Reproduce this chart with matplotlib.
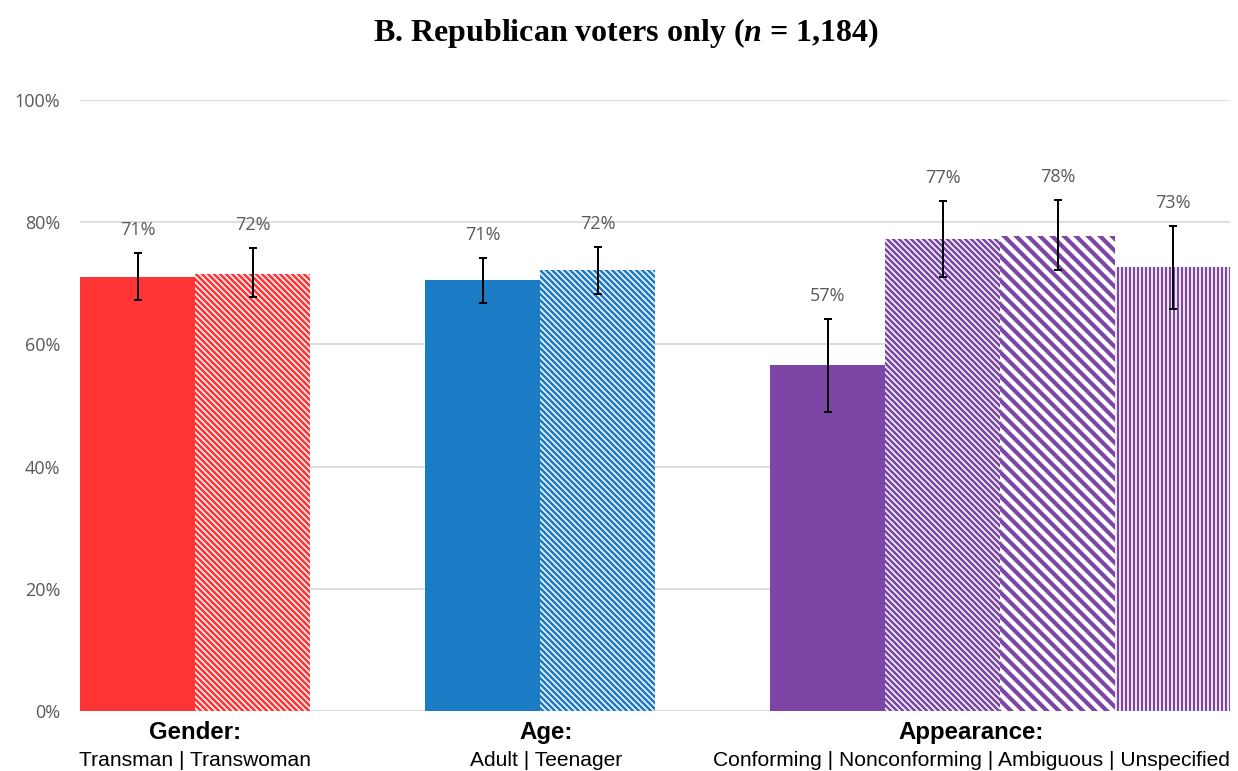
import matplotlib.pyplot as plt
import numpy as np

plt.rcParams['mathtext.fontset'] = 'custom'
plt.rcParams['mathtext.bfit'] = 'Liberation Serif:italic:bold'

# share of respondents (%) per vignette condition, with 95% CI bounds
conditions = ['Transman', 'Transwoman', 'Adult', 'Teenager',
              'Conforming', 'Nonconforming', 'Ambiguous', 'Unspecified']
support = [71.0, 71.6, 70.6, 72.2, 56.6, 77.3, 77.8, 72.6]
ci_low = [67.2, 67.7, 66.7, 68.3, 48.9, 71.1, 72.1, 65.8]
ci_high = [74.9, 75.7, 74.2, 76.0, 64.2, 83.4, 83.7, 79.3]

group_titles = ['Gender:', 'Age:', 'Appearance:']
group_subtitles = ['Transman | Transwoman', 'Adult | Teenager',
                   'Conforming | Nonconforming | Ambiguous | Unspecified']
group_sizes = [2, 2, 4]

red = '#ff3434'
blue = '#1c7bc5'
purple = '#7c45a6'
colors = [red, red, blue, blue, purple, purple, purple, purple]
hatches = [None, '\\' * 4, None, '\\' * 4, None, '\\' * 4, '\\' * 2, '|||']
hatch_lw = [1, 2.6, 1, 2.6, 1, 2.6, 4.2, 2.3]

# bar slots: one empty slot between groups
xs = []
pos = 0
for n in group_sizes:
    xs.extend(np.arange(pos, pos + n) + 0.5)
    pos += n + 1
xs = np.array(xs)
label_x = [1.0, 4.05, 7.75]

fig = plt.figure(figsize=(1238 / 72, 771 / 72), dpi=72)
ax = fig.add_axes([80 / 1238, 60 / 771, 1150 / 1238, 611 / 771])

for x, v, c, h, lw in zip(xs, support, colors, hatches, hatch_lw):
    plt.rcParams['hatch.linewidth'] = lw
    if h is None:
        ax.bar(x, v, width=1.0, color=c, linewidth=0, zorder=2)
    else:
        bars = ax.bar(x, v, width=1.0, facecolor='white', edgecolor=c,
                      hatch=h, linewidth=0, zorder=2)
        for b in bars:
            if hasattr(b, 'set_hatch_linewidth'):
                b.set_hatch_linewidth(lw)

support = np.array(support)
yerr = [support - np.array(ci_low), np.array(ci_high) - support]
ax.errorbar(xs, support, yerr=yerr, fmt='none', ecolor='black',
            elinewidth=2, capsize=4, capthick=2, zorder=3)

for x, v, hi in zip(xs, support, ci_high):
    ax.annotate(f'{v:.0f}%', (x, hi), xytext=(0, 14), textcoords='offset pixels',
                ha='center', va='bottom', fontsize=18, color='#595959',
                family='Open Sans')

ax.set_xlim(0, 10)
ax.set_ylim(0, 100)
ax.set_yticks(range(0, 101, 20))
ax.set_yticklabels([f'{t}%' for t in range(0, 101, 20)], family='Open Sans',
                   fontsize=18, color='#595959')
ax.set_xticks([])
ax.tick_params(axis='y', length=0, pad=20)
ax.grid(axis='y', color='#d4d4d4', linewidth=1.5, zorder=0)
ax.set_axisbelow(True)
for s in ax.spines.values():
    s.set_visible(False)

for x, t, st in zip(label_x, group_titles, group_subtitles):
    ax.annotate(t, (x, 0), xycoords=('data', 'axes fraction'), xytext=(0, -28),
                textcoords='offset pixels', ha='center', va='baseline',
                fontsize=24, fontweight='bold', family='Liberation Sans',
                annotation_clip=False)
    ax.annotate(st, (x, 0), xycoords=('data', 'axes fraction'), xytext=(0, -55),
                textcoords='offset pixels', ha='center', va='baseline',
                fontsize=21, family='Liberation Sans',
                annotation_clip=False)

fig.text(626 / 1238, 1 - 41 / 771, r'B. Republican voters only ($\mathbfit{n}$ = 1,184)',
         ha='center', va='baseline', fontsize=32, fontweight='bold',
         family='Liberation Serif')

fig.savefig('out.png', dpi=72)
